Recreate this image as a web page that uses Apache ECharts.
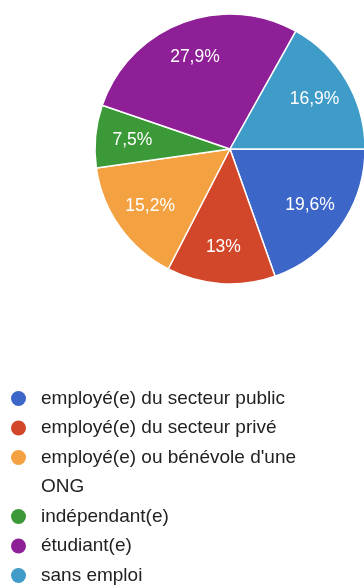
<!DOCTYPE html>
<html>
<head>
<meta charset="utf-8">
<script src="https://cdn.jsdelivr.net/npm/echarts@6/dist/echarts.min.js"></script>
<style>
  html, body { margin: 0; padding: 0; background: #fff; }
  #chart { width: 364px; height: 588px; }
</style>
</head>
<body>
<div id="chart"></div>
<script>
const categories = [
  "employé(e) du secteur public",
  "employé(e) du secteur privé",
  "employé(e) ou bénévole d'une ONG",
  "indépendant(e)",
  "étudiant(e)",
  "sans emploi"
];
const values = [19.6, 13, 15.2, 7.5, 27.9, 16.9];
const colors = ["#3d66c9", "#d2462a", "#f4a142", "#3b9a37", "#8e1f96", "#3f9bc8"];

const FONT = '"Liberation Sans", Arial, Helvetica, sans-serif';
const LEGEND_SIZE = 19;
const WRAP_WIDTH = 280;

const measureCtx = document.createElement('canvas').getContext('2d');
measureCtx.font = LEGEND_SIZE + 'px ' + FONT;
function wrapWords(text, maxW) {
  const words = text.split(' ');
  const lines = [];
  let cur = '';
  words.forEach(w => {
    const test = cur ? cur + ' ' + w : w;
    if (cur && measureCtx.measureText(test).width > maxW) {
      lines.push(cur);
      cur = w;
    } else {
      cur = test;
    }
  });
  if (cur) lines.push(cur);
  return lines;
}

const rich = {
  t: { fontSize: LEGEND_SIZE, fontFamily: FONT, color: '#222', lineHeight: 29.5 },
  g: { width: 15 },
  sp: { width: 30 }
};
colors.forEach((c, i) => {
  rich['d' + i] = { width: 15, height: 15, borderRadius: 7.5, backgroundColor: c };
});

const pieData = categories.map((name, i) => ({
  name: name,
  value: values[i],
  itemStyle: { color: colors[i] }
}));

const chart = echarts.init(document.getElementById('chart'), null, { renderer: 'canvas' });
chart.setOption({
  animation: false,
  legend: {
    orient: 'vertical',
    left: 5,
    top: 389,
    padding: 0,
    itemGap: 10.5,
    itemWidth: 0,
    itemHeight: 0,
    icon: 'circle',
    itemStyle: { opacity: 0 },
    selectedMode: false,
    data: categories,
    formatter: function (name) {
      const i = categories.indexOf(name);
      const lines = wrapWords(name, WRAP_WIDTH);
      return lines.map((l, j) => (j === 0 ? '{d' + i + '|}{g|}' : '{sp|}') + '{t|' + l + '}').join('\n');
    },
    textStyle: { rich: rich }
  },
  series: [
    {
      type: 'pie',
      center: [230, 149],
      radius: 135,
      startAngle: 0,
      clockwise: true,
      label: { show: false },
      labelLine: { show: false },
      itemStyle: { borderColor: '#ffffff', borderWidth: 1.5 },
      emphasis: { disabled: true },
      data: pieData
    },
    {
      type: 'pie',
      center: [230, 149],
      radius: [55, 135],
      startAngle: 0,
      clockwise: true,
      silent: true,
      itemStyle: { color: 'rgba(0,0,0,0)', borderWidth: 0 },
      emphasis: { disabled: true },
      label: {
        show: true,
        position: 'inside',
        color: '#ffffff',
        fontSize: 17.5,
        fontFamily: FONT,
        formatter: p => String(p.value).replace('.', ',') + '%'
      },
      labelLine: { show: false },
      data: categories.map((name, i) => ({ name: name, value: values[i] }))
    }
  ]
});
</script>
</body>
</html>
